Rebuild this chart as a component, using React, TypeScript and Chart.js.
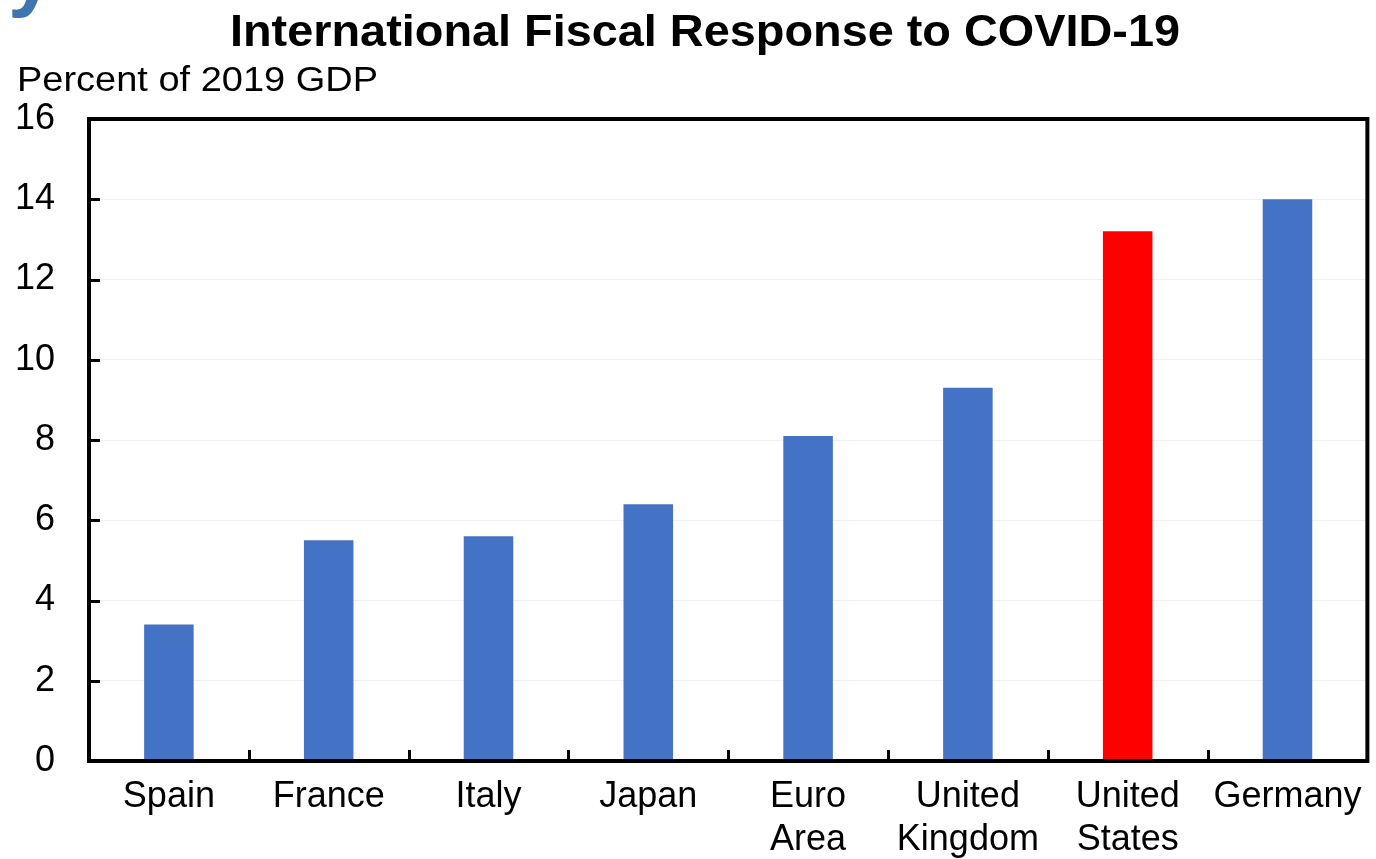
import React, { useEffect, useRef } from "react";
import { Chart, registerables } from "chart.js";

Chart.register(...registerables);

const categories: (string | string[])[] = [
  "Spain",
  "France",
  "Italy",
  "Japan",
  ["Euro", "Area"],
  ["United", "Kingdom"],
  ["United", "States"],
  "Germany",
];
const fiscalResponse: number[] = [3.4, 5.5, 5.6, 6.4, 8.1, 9.3, 13.2, 14.0];
const barColors: string[] = [
  "#4472C4",
  "#4472C4",
  "#4472C4",
  "#4472C4",
  "#4472C4",
  "#4472C4",
  "#FF0000",
  "#4472C4",
];
const titleText = "International Fiscal Response to COVID-19";
const unitText = "Percent of 2019 GDP";
const yMin = 0;
const yMax = 16;
const yStep = 2;

const FONT = "'Liberation Sans', Arial, sans-serif";

function drawStretched(ctx: any, text: string, font: string, x: number, y: number, targetWidth: number, align: "left" | "center") {
  ctx.save();
  ctx.font = font;
  const w = ctx.measureText(text).width;
  const sx = targetWidth / w;
  const left = align === "center" ? x - targetWidth / 2 : x;
  ctx.translate(left, y);
  ctx.scale(sx, 1);
  ctx.textAlign = "left";
  ctx.fillText(text, 0, 0);
  ctx.restore();
}

const decorPlugin = {
  id: "decor",
  afterDraw(chart: any) {
    const ctx = chart.ctx;
    const area = chart.chartArea;
    const x = chart.scales.x;
    const y = chart.scales.y;
    ctx.save();
    // box
    ctx.strokeStyle = "#000";
    ctx.lineWidth = 4;
    ctx.lineJoin = "miter";
    ctx.strokeRect(area.left, area.top, area.right - area.left, area.bottom - area.top);
    // y inward ticks
    ctx.lineWidth = 3;
    for (let v = yMin; v <= yMax; v += yStep) {
      const py = Math.round(y.getPixelForValue(v)) + 0.5;
      ctx.beginPath();
      ctx.moveTo(area.left, py);
      ctx.lineTo(area.left + 11, py);
      ctx.stroke();
    }
    // x inward ticks at category boundaries
    const n = categories.length;
    for (let i = 1; i < n; i++) {
      const px = Math.round((x.getPixelForValue(i - 1) + x.getPixelForValue(i)) / 2) + 0.5;
      ctx.beginPath();
      ctx.moveTo(px, area.bottom);
      ctx.lineTo(px, area.bottom - 11);
      ctx.stroke();
    }
    // titles
    ctx.fillStyle = "#000";
    ctx.textBaseline = "alphabetic";
    drawStretched(ctx, titleText, `bold 44px ${FONT}`, 705, 46, 950, "center");
    drawStretched(ctx, unitText, `35px ${FONT}`, 17, 91, 361, "left");
    // fragment of slide glyph at top-left
    ctx.fillStyle = "#3E75B0";
    ctx.font = `bold 84px ${FONT}`;
    ctx.textAlign = "left";
    ctx.fillText("y", 8, 1);
    ctx.restore();
  },
};

export default function App() {
  const ref = useRef<HTMLCanvasElement | null>(null);
  useEffect(() => {
    document.body.style.margin = "0";
    const canvas = ref.current;
    if (!canvas) return;
    const chart = new Chart(canvas, {
      type: "bar",
      data: {
        labels: categories,
        datasets: [
          {
            data: fiscalResponse,
            backgroundColor: barColors,
            borderWidth: 0,
            barPercentage: 0.31,
            categoryPercentage: 1,
          },
        ],
      },
      options: {
        responsive: false,
        animation: false,
        maintainAspectRatio: false,
        layout: { padding: { top: 119, right: 8, left: 0, bottom: 0 } },
        plugins: {
          legend: { display: false },
          title: { display: false },
          tooltip: { enabled: false },
        },
        scales: {
          x: {
            grid: { display: false, drawTicks: false },
            border: { display: false },
            ticks: {
              color: "#000",
              font: { family: FONT, size: 36, lineHeight: 1.2 },
              padding: 14,
              maxRotation: 0,
              autoSkip: false,
            },
            afterFit(scale: any) {
              scale.height = 98;
            },
          },
          y: {
            min: yMin,
            max: yMax,
            grid: { color: "#EFEFEF", lineWidth: 1, drawTicks: false },
            border: { display: false },
            ticks: {
              stepSize: yStep,
              color: "#000",
              font: { family: FONT, size: 36 },
              padding: 34,
            },
            afterFit(scale: any) {
              scale.width = 89;
            },
          },
        },
      },
      plugins: [decorPlugin],
    });
    return () => chart.destroy();
  }, []);
  return (
    <div style={{ position: "relative", width: 1376, height: 859, background: "#fff" }}>
      <canvas ref={ref} width={1376} height={859} style={{ display: "block" }} />
    </div>
  );
}
